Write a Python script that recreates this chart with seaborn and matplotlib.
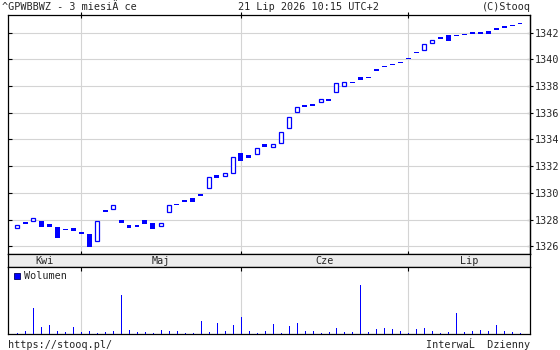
import numpy as np
import matplotlib
matplotlib.use("Agg")
import matplotlib.pyplot as plt
from matplotlib.lines import Line2D
import seaborn as sns

# ---- data ----
opens = [1327.34, 1327.81, 1327.87, 1327.91, 1327.66, 1327.44, 1327.29, 1327.36, 1327.06, 1326.91,
         1326.41, 1328.74, 1328.77, 1327.99, 1327.59, 1327.59, 1327.96, 1327.74, 1327.54, 1328.59,
         1329.19, 1329.46, 1329.64, 1329.91, 1330.39, 1331.34, 1331.28, 1331.51, 1332.99, 1332.84,
         1332.89, 1333.66, 1333.41, 1333.74, 1334.84, 1336.08, 1336.58, 1336.66, 1336.79, 1337.06,
         1337.54, 1338.03, 1338.31, 1338.68, 1338.61, 1339.28, 1339.43, 1339.60, 1339.81, 1340.04,
         1340.58, 1340.68, 1341.25, 1341.68, 1341.83, 1341.76, 1341.93, 1342.06, 1342.06, 1342.13,
         1342.36, 1342.51, 1342.58, 1342.73]
closes = [1327.57, 1327.69, 1328.09, 1327.44, 1327.44, 1326.61, 1327.21, 1327.14, 1326.91, 1325.94,
          1327.89, 1328.59, 1329.07, 1327.76, 1327.36, 1327.44, 1327.69, 1327.29, 1327.72, 1329.09,
          1329.11, 1329.31, 1329.34, 1329.76, 1331.19, 1331.14, 1331.46, 1332.69, 1332.41, 1332.63,
          1333.36, 1333.46, 1333.66, 1334.54, 1335.66, 1336.41, 1336.41, 1336.51, 1337.01, 1336.91,
          1338.21, 1338.29, 1338.21, 1338.48, 1338.58, 1339.16, 1339.40, 1339.57, 1339.71, 1340.01,
          1340.51, 1341.16, 1341.43, 1341.56, 1341.40, 1341.73, 1341.80, 1341.93, 1341.93, 1341.93,
          1342.23, 1342.38, 1342.53, 1342.68]
volume = [3, 8, 77, 20, 26, 8, 6, 20, 6, 8, 3, 6, 8, 116, 11, 6, 6, 3, 11, 8, 8, 3, 3, 38, 6, 32,
          8, 26, 50, 8, 3, 8, 29, 3, 23, 32, 8, 8, 3, 6, 17, 6, 6, 146, 6, 14, 17, 14, 8, 3, 14, 17,
          8, 3, 6, 62, 6, 8, 11, 8, 26, 8, 6, 3]
months = ["Kwi", "Maj", "Cze", "Lip"]
month_start = [8, 28, 49]          # index of first session in Maj, Cze, Lip
y_ticks = [1326, 1328, 1330, 1332, 1334, 1336, 1338, 1340, 1342]
title_left = "^GPWBBWZ - 3 miesiÄ ce"
title_mid = "21 Lip 2026 10:15 UTC+2"
title_right = "(C)Stooq"
foot_left = "https://stooq.pl/"
foot_right = "InterwaĹ  Dzienny"
vol_label = "Wolumen"

# ---- style ----
sns.set_style("white")
plt.rcParams['font.family'] = ['DejaVu Sans Mono']
FS = 7.3
BLUE = "#0000ff"
GRID = "#d4d4d4"

W, H = 560, 350
fig = plt.figure(figsize=(W / 100, H / 100), dpi=100)

def frac(x0, y0, x1, y1):
    return [x0 / W, 1 - y1 / H, (x1 - x0) / W, (y1 - y0) / H]

ax = fig.add_axes(frac(8, 15.3, 530, 254))
axs = fig.add_axes(frac(8, 254, 530, 266.7), sharex=ax)
axv = fig.add_axes(frac(8, 266.7, 530, 334), sharex=ax)

n = len(opens)
idx = np.arange(n)
xlim = (-1.165, 64.25)

# candles
o = np.array(opens); c = np.array(closes)
low = np.minimum(o, c)
hgt = np.maximum(np.abs(c - o), 0.075)
up = c > o
ax.bar(idx[~up], hgt[~up], bottom=low[~up], width=0.62, color=BLUE, edgecolor=BLUE,
       linewidth=0, zorder=3)
ax.bar(idx[up], hgt[up], bottom=low[up], width=0.5, facecolor="white", edgecolor=BLUE,
       linewidth=0.9, zorder=3)

ax.set_xlim(*xlim)
ax.set_ylim(1325.415, 1343.31)
ax.set_yticks(y_ticks)
ax.set_xticks(month_start)
ax.grid(True, color=GRID, linewidth=0.8)
ax.set_axisbelow(True)
ax.tick_params(axis='y', direction='in', length=3, width=0.8, left=True, right=False,
               labelleft=False, labelright=False, color='black')
ax.tick_params(axis='x', direction='inout', length=4, width=0.8, top=True, bottom=True,
               labelbottom=False, labeltop=False, color='black')
sec = ax.secondary_yaxis('right')
sec.set_yticks(y_ticks)
sec.set_yticklabels([str(v) for v in y_ticks])
sec.tick_params(direction='inout', length=4, width=0.8, pad=1.5, labelsize=FS, color='black')
sec.spines['right'].set_linewidth(0.9)
for s in ax.spines.values():
    s.set_color('black'); s.set_linewidth(0.9)

# month strip
axs.set_facecolor("#ececec")
axs.set_yticks([])
axs.tick_params(axis='x', bottom=False, top=False, labelbottom=False)
for s in axs.spines.values():
    s.set_color('black'); s.set_linewidth(0.9)
bounds = [xlim[0]] + month_start + [xlim[1]]
for i, m in enumerate(months):
    axs.text((bounds[i] + bounds[i + 1]) / 2, 0.45, m, ha='center', va='center',
             fontsize=FS, transform=axs.get_xaxis_transform())

# volume
axv.vlines(idx, 0, volume, colors=BLUE, linewidth=0.68, antialiased=False, zorder=3)
axv.set_xlim(*xlim)
axv.set_ylim(0, 200)
axv.set_yticks([])
axv.set_xticks(month_start)
axv.grid(True, axis='x', color=GRID, linewidth=0.8)
axv.set_axisbelow(True)
axv.tick_params(axis='x', direction='in', length=3, width=0.8, top=True, bottom=False,
                labelbottom=False, color='black')
for s in axv.spines.values():
    s.set_color('black'); s.set_linewidth(0.9)
handle = Line2D([], [], marker='s', linestyle='none', markersize=4.6,
                markerfacecolor=BLUE, markeredgecolor='#000060', markeredgewidth=0.6)
axv.legend([handle], [vol_label], loc='upper left', frameon=False, fontsize=FS,
           handlelength=0.8, handletextpad=0.35, borderaxespad=0.0,
           bbox_to_anchor=(0.0, 1.0), borderpad=0.45)

# header / footer texts
fig.text(2.5 / W, 1 - 7.5 / H, title_left, ha='left', va='center', fontsize=FS)
fig.text(308 / W, 1 - 7.5 / H, title_mid, ha='center', va='center', fontsize=FS)
fig.text(530.5 / W, 1 - 7.5 / H, title_right, ha='right', va='center', fontsize=FS)
fig.text(8 / W, 1 - 344.5 / H, foot_left, ha='left', va='center', fontsize=FS)
fig.text(530.5 / W, 1 - 344.5 / H, foot_right, ha='right', va='center', fontsize=FS)

fig.savefig("out.png", dpi=100)
